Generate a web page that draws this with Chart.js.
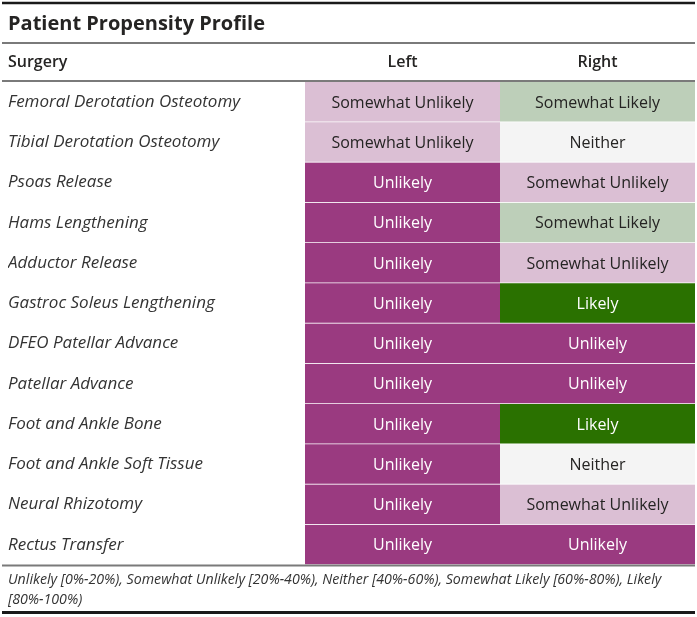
<!DOCTYPE html>
<html>
<head>
<meta charset="utf-8">
<script src="https://cdn.jsdelivr.net/npm/chart.js@4/dist/chart.umd.min.js"></script>
<style>
html,body{margin:0;padding:0;background:#fff;}
#wrap{width:697px;height:617px;position:relative;}
</style>
</head>
<body>
<div id="wrap"><canvas id="c" width="697" height="617"></canvas></div>
<script>
const titleText = 'Patient Propensity Profile';
const rowHeader = 'Surgery';
const columns = ['Left', 'Right'];
const surgeries = [
  'Femoral Derotation Osteotomy',
  'Tibial Derotation Osteotomy',
  'Psoas Release',
  'Hams Lengthening',
  'Adductor Release',
  'Gastroc Soleus Lengthening',
  'DFEO Patellar Advance',
  'Patellar Advance',
  'Foot and Ankle Bone',
  'Foot and Ankle Soft Tissue',
  'Neural Rhizotomy',
  'Rectus Transfer'
];
const leftValues = [
  'Somewhat Unlikely', 'Somewhat Unlikely', 'Unlikely', 'Unlikely', 'Unlikely', 'Unlikely',
  'Unlikely', 'Unlikely', 'Unlikely', 'Unlikely', 'Unlikely', 'Unlikely'
];
const rightValues = [
  'Somewhat Likely', 'Neither', 'Somewhat Unlikely', 'Somewhat Likely', 'Somewhat Unlikely', 'Likely',
  'Unlikely', 'Unlikely', 'Likely', 'Neither', 'Somewhat Unlikely', 'Unlikely'
];
const levels = ['Unlikely', 'Somewhat Unlikely', 'Neither', 'Somewhat Likely', 'Likely'];
const levelColors = ['#9a3a80', '#dbbfd4', '#f4f4f4', '#bdcfb9', '#2a7100'];
const levelTextColors = ['#ffffff', '#252423', '#252423', '#252423', '#ffffff'];
const footnoteLines = [
  'Unlikely [0%-20%), Somewhat Unlikely [20%-40%), Neither [40%-60%), Somewhat Likely [60%-80%), Likely',
  '[80%-100%)'
];

const FONT = "'Segoe UI', 'Open Sans', 'Noto Sans', sans-serif";
const colorOf = v => levelColors[levels.indexOf(v)];
const textColorOf = v => levelTextColors[levels.indexOf(v)];

const valueSets = [leftValues, rightValues];

const tablePlugin = {
  id: 'tableDecor',
  beforeDraw(chart) {
    const ctx = chart.ctx;
    ctx.save();
    ctx.fillStyle = '#ffffff';
    ctx.fillRect(0, 0, chart.width, chart.height);
    ctx.restore();
  },
  afterDatasetsDraw(chart) {
    const ctx = chart.ctx;
    ctx.save();
    ctx.font = "16px " + FONT;
    ctx.textAlign = 'center';
    ctx.textBaseline = 'middle';
    chart.data.datasets.forEach((ds, di) => {
      const meta = chart.getDatasetMeta(di);
      meta.data.forEach((el, i) => {
        const v = valueSets[di][i];
        ctx.fillStyle = textColorOf(v);
        ctx.fillText(v, (el.x + el.base) / 2, el.y + 1);
      });
    });
    ctx.restore();
  },
  afterDraw(chart) {
    const ctx = chart.ctx;
    const L = 2, R = 695;
    ctx.save();
    const rule = (y, w, c) => {
      ctx.fillStyle = c;
      ctx.fillRect(L, y - w / 2, R - L, w);
    };
    rule(3, 2.5, '#1a1a1a');
    rule(43, 2, '#7a7a7a');
    rule(81, 2, '#7a7a7a');
    rule(565.5, 2, '#7a7a7a');
    rule(612.5, 3, '#1a1a1a');

    ctx.fillStyle = '#252423';
    ctx.textAlign = 'left';
    ctx.textBaseline = 'middle';
    ctx.font = "bold 20px " + FONT;
    ctx.fillText(titleText, 8, 24);
    ctx.font = "600 16px " + FONT;
    ctx.fillText(rowHeader, 8, 62);

    ctx.font = "italic 14.2px " + FONT;
    ctx.fillStyle = '#333333';
    footnoteLines.forEach((t, i) => ctx.fillText(t, 8, 580 + i * 20));
    ctx.restore();
  }
};

const makeDs = (vals, col) => ({
  label: columns[col],
  data: vals.map(() => [col, col + 1]),
  backgroundColor: vals.map(colorOf),
  borderColor: 'rgba(255,255,255,0.15)',
  borderWidth: {top: 0, left: 0, right: 0, bottom: 1},
  borderSkipped: false,
  barPercentage: 1,
  categoryPercentage: 1,
  grouped: false,
  xAxisID: 'x',
  yAxisID: 'y'
});

new Chart(document.getElementById('c'), {
  type: 'bar',
  data: {
    labels: surgeries,
    datasets: [makeDs(leftValues, 0), makeDs(rightValues, 1)]
  },
  plugins: [tablePlugin],
  options: {
    responsive: false,
    animation: false,
    indexAxis: 'y',
    layout: {padding: {top: 44, left: 8, right: 2, bottom: 52}},
    plugins: {legend: {display: false}, tooltip: {enabled: false}, title: {display: false}},
    scales: {
      x: {
        type: 'linear', min: 0, max: 2, display: false
      },
      xTop: {
        type: 'category', position: 'top', labels: columns, offset: true,
        grid: {display: false, drawTicks: false},
        border: {display: false},
        ticks: {color: '#252423', font: {family: FONT, size: 16, weight: '600'}, padding: 10},
        afterFit(s) { s.height = 38; }
      },
      y: {
        type: 'category', position: 'left',
        grid: {display: false, drawTicks: false},
        border: {display: false},
        ticks: {
          crossAlign: 'far', padding: 0, color: '#333333',
          font: {family: FONT, size: 17, style: 'italic'}
        },
        afterFit(s) { s.width = 297; }
      }
    }
  }
});
</script>
</body>
</html>
